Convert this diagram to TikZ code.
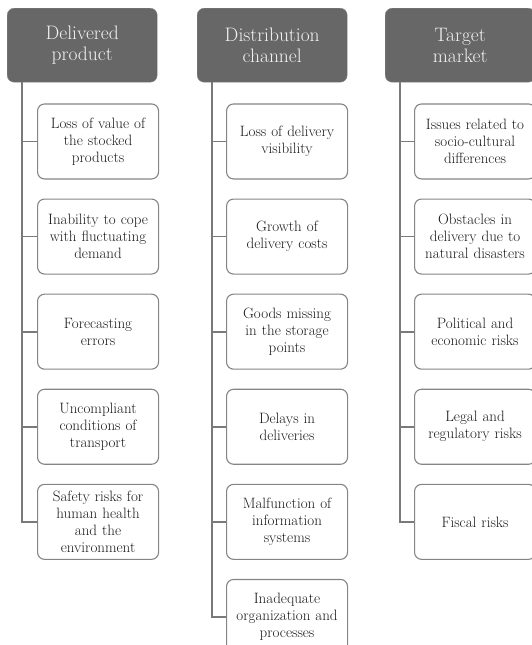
\documentclass[tikz,border=0pt]{standalone}
\usepackage{xcolor}
\usepackage{tikz}
\usetikzlibrary{positioning,calc}
\definecolor{cHead}{HTML}{676767}
\definecolor{cHeadTxt}{HTML}{F2F2F2}
\definecolor{cEdge}{HTML}{858585}
\definecolor{cLink}{HTML}{7A7A7A}
\definecolor{cTxt}{HTML}{1A1A1A}
\tikzset{
  head/.style ={draw=cHead!80, fill=cHead, rounded corners=7pt, align=center,
                text=cHeadTxt, minimum width=150pt, minimum height=74pt,
                text width=144pt, inner sep=2pt, font=\fontsize{19.5}{21}\selectfont},
  risk/.style ={draw=cEdge, fill=white, rounded corners=7pt, align=center, line width=1.1pt,
                text=cTxt, minimum width=121pt, minimum height=75pt,
                text width=116pt, inner sep=2pt, font=\fontsize{15}{17}\selectfont},
  link/.style ={draw=cLink, line width=1.8pt},
}
\begin{document}
\begin{tikzpicture}[x=1pt, y=1pt]
        \useasboundingbox (0,0) rectangle (532,-645);
        % headers
        \node[head, anchor=north west] (hProd) at (7,-8) {Delivered\\product};
        \node[head, anchor=north west] (hChan) at (197,-8) {Distribution\\channel};
        \node[head, anchor=north west] (hMark) at (385,-8) {Target\\market};
        % delivered product
        \node[risk, below=21pt of hProd.south west, anchor=north west, xshift=30pt] (p1)
          {Loss of value of\\the stocked\\products};
        \node[risk, below=19pt of p1] (p2) {Inability to cope\\with fluctuating\\demand};
        \node[risk, below=19pt of p2] (p3) {Forecasting\\errors};
        \node[risk, below=19pt of p3] (p4) {Uncompliant\\conditions of\\transport};
        \node[risk, below=19pt of p4] (p5) {Safety risks for\\human health\\and the\\environment};
        % distribution channel
        \node[risk, below=21pt of hChan.south west, anchor=north west, xshift=29pt] (d1)
          {Loss of delivery\\visibility};
        \node[risk, below=19pt of d1] (d2) {Growth of\\delivery costs};
        \node[risk, below=19pt of d2] (d3) {Goods missing\\in the storage\\points};
        \node[risk, below=19pt of d3] (d4) {Delays in\\deliveries};
        \node[risk, below=19pt of d4] (d5) {Malfunction of\\information\\systems};
        \node[risk, below=19pt of d5] (d6) {Inadequate\\organization and\\processes};
        % target market
        \node[risk, below=21pt of hMark.south west, anchor=north west, xshift=29pt] (m1)
          {Issues related to\\socio-cultural\\differences};
        \node[risk, below=19pt of m1] (m2) {Obstacles in\\delivery due to\\natural disasters};
        \node[risk, below=19pt of m2] (m3) {Political and\\economic risks};
        \node[risk, below=19pt of m3] (m4) {Legal and\\regulatory risks};
        \node[risk, below=19pt of m4] (m5) {Fiscal risks};
        % connectors
        \coordinate (rProd) at ($(hProd.south west)+(15,0)$);
        \coordinate (rChan) at ($(hChan.south west)+(15,0)$);
        \coordinate (rMark) at ($(hMark.south west)+(15,0)$);
        \foreach \k in {1,...,5} \draw[link] (rProd) |- (p\k.west);
        \foreach \k in {1,...,6} \draw[link] (rChan) |- (d\k.west);
        \foreach \k in {1,...,5} \draw[link] (rMark) |- (m\k.west);
      \end{tikzpicture}
\end{document}
